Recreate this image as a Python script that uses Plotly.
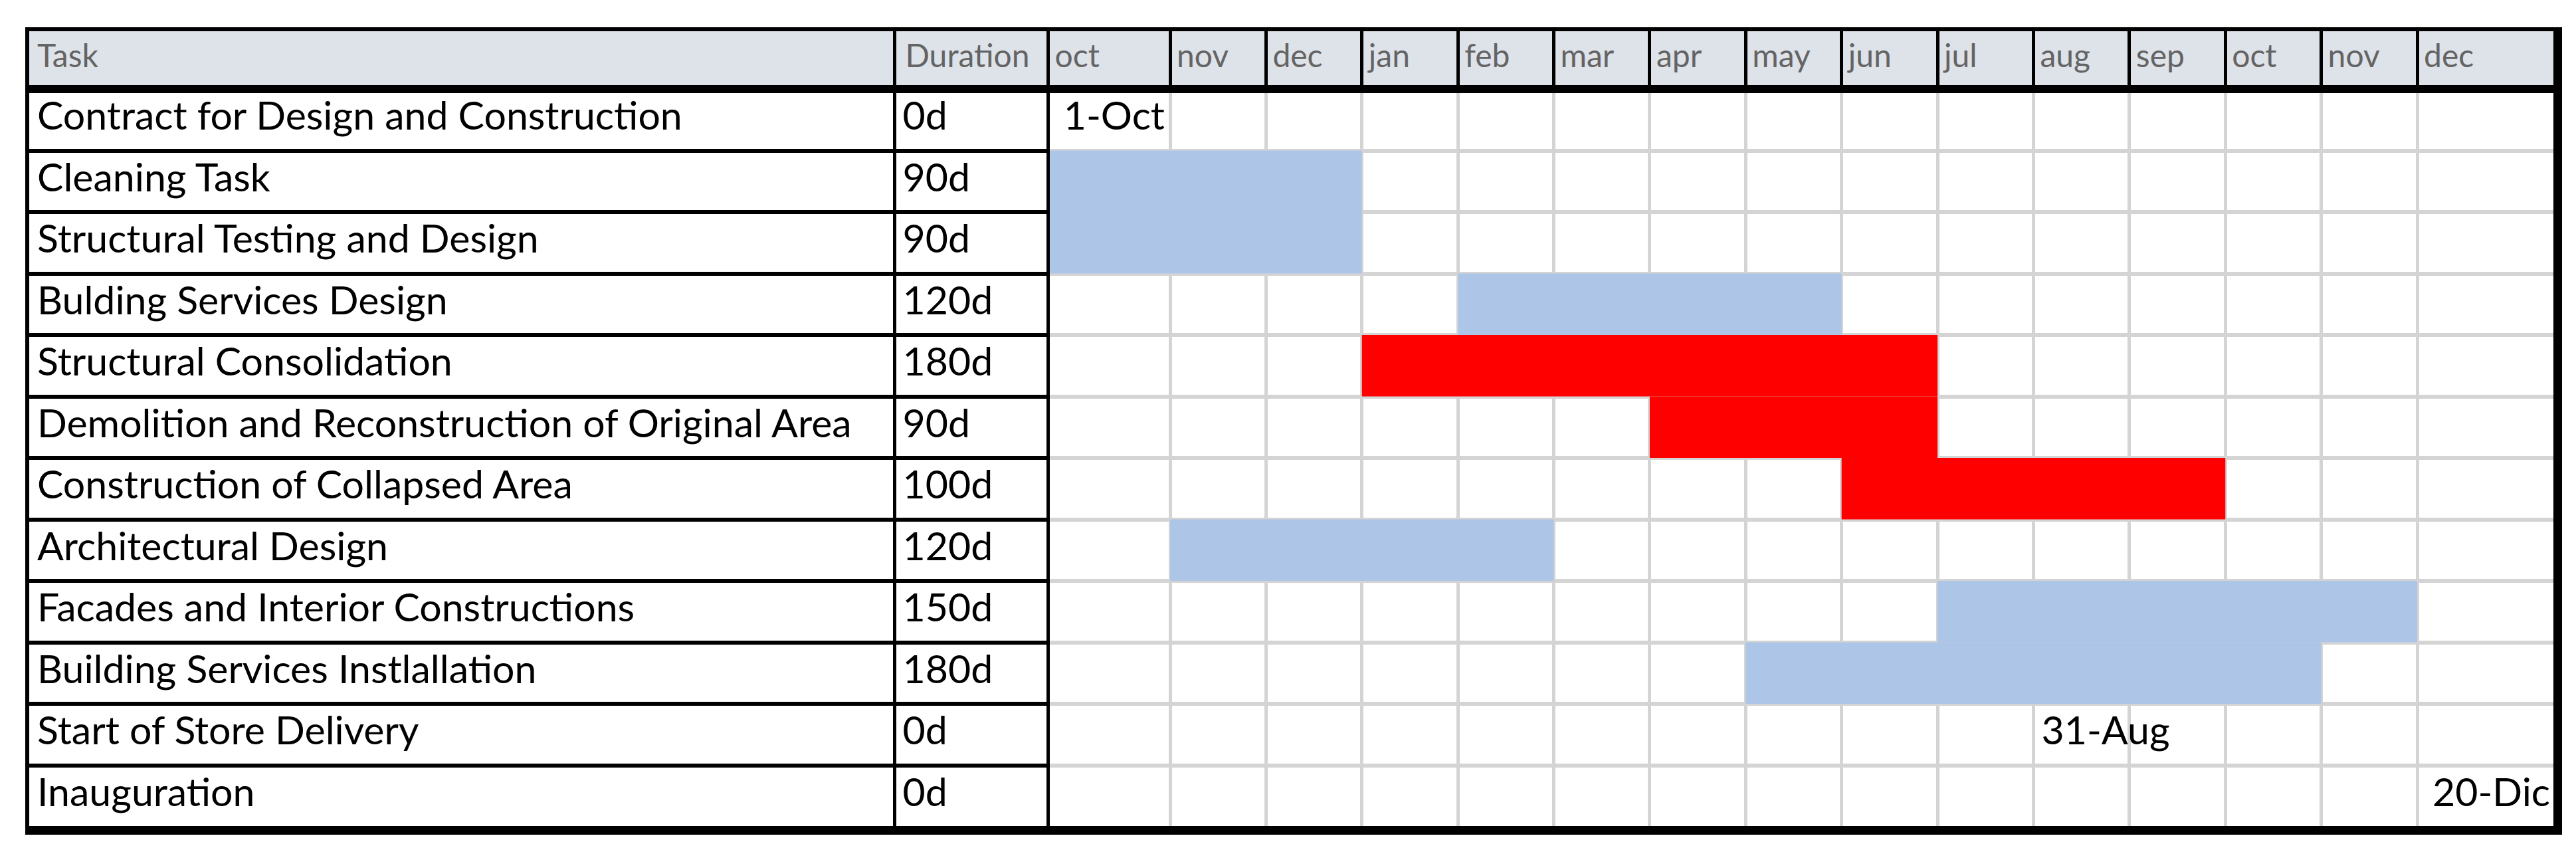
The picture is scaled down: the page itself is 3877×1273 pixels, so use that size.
import plotly.graph_objects as go

# ---------------- data ----------------
months = ["oct", "nov", "dec", "jan", "feb", "mar", "apr", "may", "jun",
          "jul", "aug", "sep", "oct", "nov", "dec"]
tasks = ["Contract for Design and Construction", "Cleaning Task",
         "Structural Testing and Design", "Bulding Services Design",
         "Structural Consolidation", "Demolition and Reconstruction of Original Area",
         "Construction of Collapsed Area", "Architectural Design",
         "Facades and Interior Constructions", "Building Services Instlallation",
         "Start of Store Delivery", "Inauguration"]
durations = ["0d", "90d", "90d", "120d", "180d", "90d", "100d", "120d",
             "150d", "180d", "0d", "0d"]
header_labels = ["Task", "Duration"]

bar_tasks = ["Cleaning Task", "Structural Testing and Design", "Bulding Services Design",
             "Structural Consolidation", "Demolition and Reconstruction of Original Area",
             "Construction of Collapsed Area", "Architectural Design",
             "Facades and Interior Constructions", "Building Services Instlallation"]
bar_start_month = [0, 0, 4, 3, 6, 8, 1, 9, 7]     # index into months
bar_n_months = [3, 3, 4, 6, 3, 4, 4, 5, 6]
bar_critical = [False, False, False, True, True, True, False, False, False]

milestone_tasks = ["Contract for Design and Construction", "Start of Store Delivery", "Inauguration"]
milestone_labels = ["1-Oct", "31-Aug", "20-Dic"]
milestone_month = [0, 10, 14]

# ---------------- style / layout ----------------
milestone_align = ["right", "left", "right"]
W, H = 3877, 1273
FONT = "Lato, Calibri, Carlito, sans-serif"
BODY_SIZE = 59
HEAD_SIZE = 48
BLUE = "#adc5e7"
RED = "#ff0000"
GRID_GRAY = "#d4d4d4"
HEAD_BG = "#dee2e9"
HEAD_TXT = "#646464"

TABLE_L, TABLE_R = 33, 3838
TASK_R, DUR_R, LEFT_SUB_R = 1338.5, 1569.5, 1572
HEAD_T, HEAD_B, BODY_B = 36, 126, 1236
TASK_W = TASK_R - TABLE_L
DUR_W = DUR_R - TASK_R

# gantt month segments: (unit_lo, unit_hi, px_lo, px_hi, dom_lo, dom_hi)
segments = [
    (0, 1, 1569.5, 1753, 1572, 1756),
    (1, 14, 1753, 3630, 1756, 3627),
    (14, 15, 3630, 3838, 3627, 3835),
]


def fx(p):
    return p / W


def fy(p):
    return 1 - p / H


fig = go.Figure()

common_axis = dict(showticklabels=False, ticks="", zeroline=False, showline=False,
                   fixedrange=True)

# left columns (task + duration)
left_range = [0, LEFT_SUB_R - TABLE_L]
fig.update_layout(
    xaxis=dict(domain=[fx(TABLE_L), fx(LEFT_SUB_R)], range=left_range, anchor="y",
               tickmode="array", tickvals=[TASK_W, TASK_W + DUR_W],
               showgrid=True, gridcolor="black", gridwidth=5, **common_axis),
    yaxis=dict(domain=[fy(BODY_B), fy(HEAD_B)], type="category",
               categoryorder="array", categoryarray=tasks,
               range=[len(tasks) - 0.5, -0.5], tickson="boundaries",
               tickmode="linear", tick0=0, dtick=1,
               showgrid=True, gridcolor="black", gridwidth=6, anchor="x", **common_axis),
    xaxis2=dict(domain=[fx(TABLE_L), fx(LEFT_SUB_R)], range=left_range, anchor="y3",
                tickmode="array", tickvals=[TASK_W, TASK_W + DUR_W],
                showgrid=True, gridcolor="black", gridwidth=5, **common_axis),
    yaxis2=dict(domain=[fy(BODY_B), fy(HEAD_B)], type="category",
                categoryorder="array", categoryarray=tasks,
                range=[len(tasks) - 0.5, -0.5], tickson="boundaries",
                tickmode="linear", tick0=0, dtick=1,
                showgrid=True, gridcolor=GRID_GRAY, gridwidth=6, anchor="x3", **common_axis),
    yaxis3=dict(domain=[fy(HEAD_B), fy(HEAD_T)], range=[0, 1], showgrid=False,
                anchor="x2", **common_axis),
)

# text in left columns
fig.add_trace(go.Scatter(x=[15] * len(tasks), y=tasks, text=tasks, mode="text",
                         textposition="middle right", xaxis="x", yaxis="y",
                         textfont=dict(family=FONT, size=BODY_SIZE, color="black"),
                         hoverinfo="skip"))
fig.add_trace(go.Scatter(x=[TASK_W + 12] * len(tasks), y=tasks, text=durations, mode="text",
                         textposition="middle right", xaxis="x", yaxis="y",
                         textfont=dict(family=FONT, size=BODY_SIZE, color="black"),
                         hoverinfo="skip"))
fig.add_trace(go.Scatter(x=[15, TASK_W + 16], y=[0.5, 0.5], text=header_labels, mode="text",
                         textposition="middle right", xaxis="x2", yaxis="y3",
                         textfont=dict(family=FONT, size=HEAD_SIZE, color=HEAD_TXT),
                         hoverinfo="skip"))

bar_colors = [RED if c else BLUE for c in bar_critical]

for k, (u0, u1, p0, p1, d0, d1) in enumerate(segments):
    scale = (p1 - p0) / (u1 - u0)
    rng = [u0 + (d0 - p0) / scale, u0 + (d1 - p0) / scale]
    bx = "x%d" % (3 + k)
    hx = "x%d" % (6 + k)
    fig.layout["xaxis%d" % (3 + k)] = dict(
        domain=[fx(d0), fx(d1)], range=rng, anchor="y2", tickmode="linear", tick0=0, dtick=1,
        showgrid=True, gridcolor=GRID_GRAY, gridwidth=5, **common_axis)
    fig.layout["xaxis%d" % (6 + k)] = dict(
        domain=[fx(d0), fx(d1)], range=rng, anchor="y3", tickmode="linear", tick0=0, dtick=1,
        showgrid=True, gridcolor="black", gridwidth=5, **common_axis)

    # bars (clipped by each segment's axis range)
    fig.add_trace(go.Bar(orientation="h", y=bar_tasks, x=bar_n_months, base=bar_start_month,
                         width=1, marker=dict(color=bar_colors, line=dict(width=0)),
                         xaxis=bx, yaxis="y2", hoverinfo="skip"))

    # month header labels in this segment
    idx = [i for i in range(len(months)) if u0 <= i < u1]
    fig.add_trace(go.Scatter(x=[i + 10 / scale for i in idx], y=[0.5] * len(idx),
                             text=[months[i] for i in idx], mode="text",
                             textposition="middle right", xaxis=hx, yaxis="y3",
                             textfont=dict(family=FONT, size=HEAD_SIZE, color=HEAD_TXT),
                             hoverinfo="skip"))

    # milestone labels in this segment
    for t, lab, m, al in zip(milestone_tasks, milestone_labels, milestone_month, milestone_align):
        if u0 <= m < u1:
            if al == "right":
                xpos, tp = m + 1 - 8 / scale, "middle left"
            else:
                xpos, tp = m + 12 / scale, "middle right"
            fig.add_trace(go.Scatter(x=[xpos], y=[t], text=[lab], mode="text",
                                     textposition=tp, xaxis=bx, yaxis="y2",
                                     textfont=dict(family=FONT, size=BODY_SIZE, color="black"),
                                     hoverinfo="skip", cliponaxis=False))

# header background + table frame
shapes = [
    dict(type="rect", xref="paper", yref="paper", x0=fx(TABLE_L), x1=fx(TABLE_R),
         y0=fy(HEAD_B), y1=fy(HEAD_T), fillcolor=HEAD_BG, line=dict(width=0), layer="below"),
]
frame = [(30, 36, 33, 1248), (30, 3848, 33, 39), (3835, 3848, 33, 1248),
         (30, 3848, 1235, 1248), (30, 3848, 120, 132)]
for x0, x1, y0, y1 in frame:
    shapes.append(dict(type="rect", xref="paper", yref="paper", x0=fx(x0), x1=fx(x1),
                       y0=fy(y1), y1=fy(y0), fillcolor="black", line=dict(width=0),
                       layer="above"))

fig.update_layout(width=W, height=H, margin=dict(l=0, r=0, t=0, b=0, pad=0),
                  autosize=False, paper_bgcolor="white", plot_bgcolor="rgba(0,0,0,0)",
                  showlegend=False, hovermode=False, shapes=shapes, barmode="overlay")

fig.write_html("out.html")
